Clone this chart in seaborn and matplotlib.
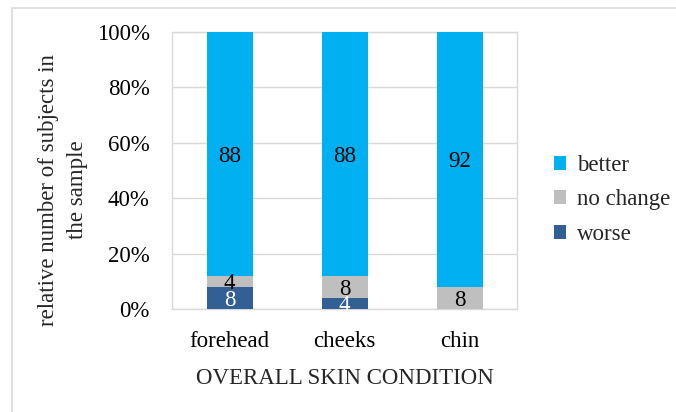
import numpy as np
import pandas as pd
import matplotlib
matplotlib.use("Agg")
import matplotlib.pyplot as plt
from matplotlib.patches import Patch, Rectangle
import seaborn as sns

sites = ["forehead", "cheeks", "chin"]
worse = [8, 4, 0]
no_change = [4, 8, 8]
better = [88, 88, 92]

colors = {"better": "#00B0F0", "no change": "#BFBFBF", "worse": "#336094"}

sns.set_theme(style="white")
plt.rcParams["font.family"] = ["Liberation Serif", "DejaVu Serif"]
FS = 16.5

df = pd.DataFrame({"site": sites, "worse": worse, "no change": no_change, "better": better})
df["top_worse"] = df["worse"]
df["top_nc"] = df["worse"] + df["no change"]
df["top_better"] = df["top_nc"] + df["better"]

fig = plt.figure(figsize=(6.76, 4.12), dpi=100)
fig.patches.append(Rectangle((12 / 676, -0.1), 1.2, 1 - 8 / 412 + 0.1, transform=fig.transFigure,
                             fill=False, edgecolor="#D9D9D9", linewidth=1.2))
ax = fig.add_axes([172 / 676, 1 - 309 / 412, (517 - 172) / 676, (309 - 32) / 412])

# stacked segments: draw cumulative totals from tallest to shortest
for col, key in [("top_better", "better"), ("top_nc", "no change"), ("top_worse", "worse")]:
    sns.barplot(data=df, x="site", y=col, color=colors[key], width=0.4, saturation=1,
                ax=ax, zorder=3, linewidth=0)

# segment value labels
for i in range(len(sites)):
    segs = [(0, worse[i], "white"), (worse[i], no_change[i], "black"),
            (worse[i] + no_change[i], better[i], "black")]
    for base, val, c in segs:
        if val > 0:
            ax.text(i, base + val / 2, f"{val}", ha="center", va="center_baseline",
                    fontsize=FS, color=c, zorder=5)

ax.set_ylim(0, 100)
ax.set_xlim(-0.5, 2.5)
ax.set_yticks(np.arange(0, 101, 20))
ax.set_yticklabels([f"{v}%" for v in range(0, 101, 20)])
ax.yaxis.grid(True, color="#D9D9D9", linewidth=1, zorder=0)
ax.set_axisbelow(True)
for s in ax.spines.values():
    s.set_color("#D9D9D9")
    s.set_linewidth(1)
ax.tick_params(axis="both", length=0, labelsize=FS, colors="black")
ax.tick_params(axis="y", pad=16)
ax.tick_params(axis="x", pad=16)
ax.set_xlabel("OVERALL SKIN CONDITION", fontsize=FS, labelpad=11)
ax.set_ylabel("")
fig.text(63 / 676, 1 - 190 / 412, "relative number of subjects in\nthe sample", rotation=90,
         ha="center", va="center", fontsize=FS, linespacing=1.5)

handles = [Patch(facecolor=colors[k], edgecolor="none") for k in ["better", "no change", "worse"]]
fig.legend(handles, ["better", "no change", "worse"], loc="center left",
           bbox_to_anchor=(533 / 676, 1 - 200 / 412), frameon=False, fontsize=FS,
           handlelength=0.55, handleheight=0.55, handletextpad=0.45, labelspacing=0.6)

fig.savefig("out.png", dpi=100)
